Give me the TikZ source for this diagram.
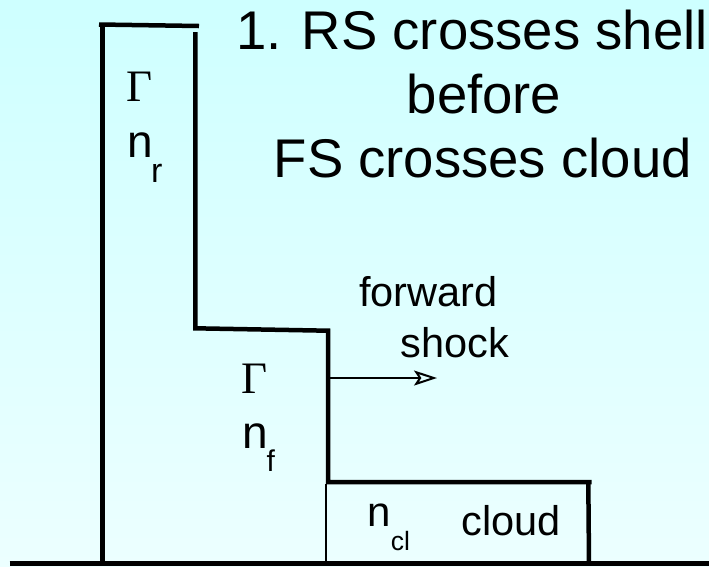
\documentclass[tikz,border=0pt]{standalone}
\usepackage{fontspec}
\setmainfont{Liberation Sans}
\newfontfamily\serifG{Liberation Serif}
\usetikzlibrary{arrows.meta}
\definecolor{bgtop}{RGB}{206,255,255}
\definecolor{bgbot}{RGB}{236,255,255}
\begin{document}
\begin{tikzpicture}[x=1pt,y=-1pt,
  wall/.style={line width=4.5pt, line cap=butt, line join=miter},
  thinwall/.style={line width=1.5pt},
  titletxt/.style={inner sep=0pt, anchor=base, font=\fontsize{54.5}{64}\selectfont},
  lbl/.style={inner sep=0pt, anchor=base west},
  big/.style={lbl, font=\fontsize{41.5}{48}\selectfont},
  gam/.style={lbl, font=\serifG\fontsize{45}{50}\selectfont},
  subs/.style={lbl, font=\fontsize{32}{36}\selectfont}]
\useasboundingbox (0,0) rectangle (709,566);
\shade[top color=bgtop, bottom color=bgbot] (0,0) rectangle (709,566);

% title
\node[titletxt] (t1) at (472,49.5) {1. RS crosses shell};
\node[titletxt] (t2) at (484,113) {before};
\node[titletxt] (t3) at (482.7,177.5) {FS crosses cloud};

% shell outline
\draw[wall] (102.5,563) -- (102.5,25);
\draw[wall] (99,24.5) -- (199,26);
\draw[wall] (195.3,32) -- (195.3,328.3) -- (328,330.7) -- (328,482) -- (591.5,482);
\draw[wall] (588.3,482) -- (589,563);
\draw[thinwall] (325.8,484) -- (325.8,563);
\draw[line width=5pt] (9.5,563) -- (709,563);

% labels
\node[gam] (g1) at (126,101.7) {Γ};
\node[lbl, font=\fontsize{46}{50}\selectfont] (n1) at (127,157) {n};
\node[subs, font=\fontsize{34}{36}\selectfont] (r1) at (151,182) {r};

\node[gam] (g2) at (241.5,393) {Γ};
\node[lbl, font=\fontsize{46}{50}\selectfont] (n2) at (242,448) {n};
\node[subs, font=\fontsize{30}{34}\selectfont] (f2) at (266.3,471.7) {f};

\node[lbl, font=\fontsize{42}{48}\selectfont] (n3) at (367,526.7) {n};
\node[lbl, font=\fontsize{26.5}{30}\selectfont] (c3) at (390.7,550.7) {cl};
\node[big] (cl) at (461.5,535) {cloud};

\node[big] (fw) at (359,306.7) {forward};
\node[big] (sh) at (400.5,357) {shock};

% forward shock arrow
\coordinate (fs) at (330,378);
\coordinate (fe) at (437,378);
\draw[line width=2pt, -{Stealth[open, length=23pt, width=15pt, inset=5pt]}] (fs) -- (fe);
\end{tikzpicture}
\end{document}
